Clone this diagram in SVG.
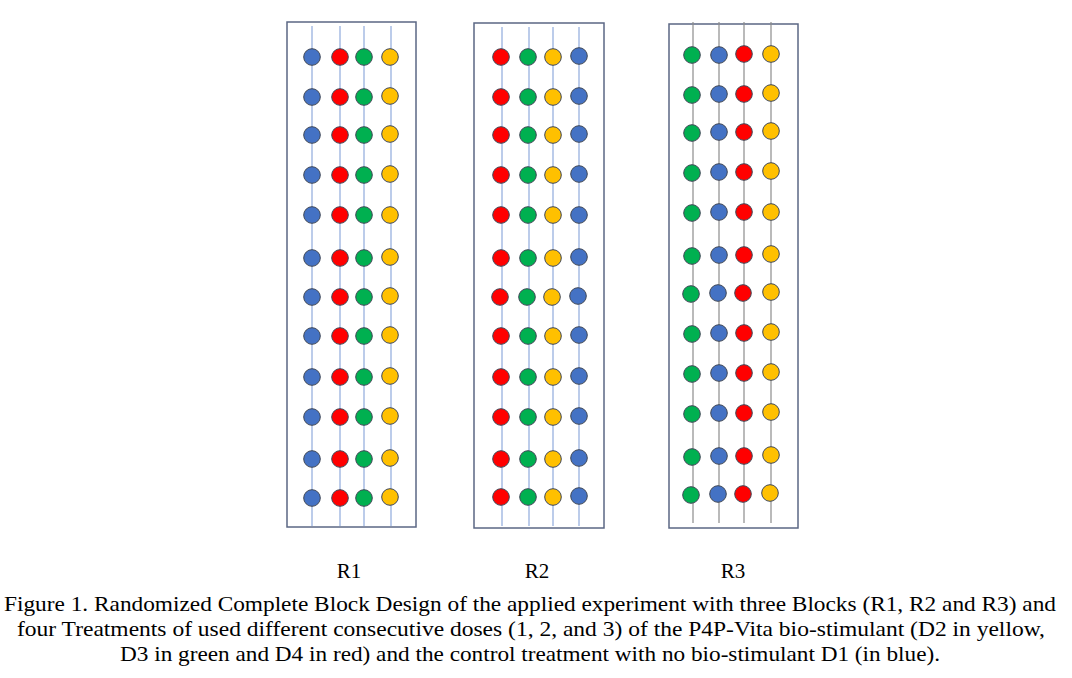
<svg xmlns="http://www.w3.org/2000/svg" width="1072" height="678" viewBox="0 0 1072 678">
<style>
.box{fill:#fff;stroke:#5b6784;stroke-width:1.5}
.l1{stroke:#8faadc;stroke-width:1.2}
.l3{stroke:#8c8c8c;stroke-width:1.2}
circle{stroke:#3f4756;stroke-width:1}
.b{fill:#4472c4}.r{fill:#ff0000}.g{fill:#00b050}.y{fill:#ffc000}
text{font-family:"Liberation Serif","Times New Roman",serif;font-size:21px;fill:#000;text-anchor:middle}
</style>
<rect width="1072" height="678" fill="#fff"/>
<g id="R1">
<rect class="box" x="287" y="22" width="129" height="505"/>
<g class="l1"><line x1="312" y1="26" x2="312" y2="526"/><line x1="340" y1="26" x2="340" y2="526"/><line x1="364" y1="26" x2="364" y2="526"/><line x1="391" y1="26" x2="391" y2="526"/></g>
</g>
<g id="R2">
<rect class="box" x="474" y="23" width="130" height="505"/>
<g class="l1"><line x1="502" y1="27" x2="502" y2="526"/><line x1="529" y1="27" x2="529" y2="526"/><line x1="553" y1="27" x2="553" y2="526"/><line x1="579" y1="27" x2="579" y2="526"/></g>
</g>
<g id="R3">
<rect class="box" x="669" y="24" width="129" height="504"/>
<g class="l3"><line x1="693" y1="22" x2="693" y2="523"/><line x1="719" y1="22" x2="719" y2="523"/><line x1="744" y1="22" x2="744" y2="523"/><line x1="771" y1="22" x2="771" y2="523"/></g>
</g>
<g id="R1-circles">
<circle class="b" cx="312" cy="57" r="8.3"/><circle class="r" cx="340" cy="57" r="8.3"/><circle class="g" cx="364" cy="57" r="8.3"/><circle class="y" cx="390" cy="57" r="8.3"/>
<circle class="b" cx="312" cy="97" r="8.3"/><circle class="r" cx="340" cy="97" r="8.3"/><circle class="g" cx="364" cy="97" r="8.3"/><circle class="y" cx="390" cy="96" r="8.3"/>
<circle class="b" cx="312" cy="135" r="8.3"/><circle class="r" cx="340" cy="135" r="8.3"/><circle class="g" cx="364" cy="135" r="8.3"/><circle class="y" cx="390" cy="134" r="8.3"/>
<circle class="b" cx="312" cy="175" r="8.3"/><circle class="r" cx="340" cy="175" r="8.3"/><circle class="g" cx="364" cy="175" r="8.3"/><circle class="y" cx="390" cy="174" r="8.3"/>
<circle class="b" cx="312" cy="215" r="8.3"/><circle class="r" cx="340" cy="215" r="8.3"/><circle class="g" cx="364" cy="215" r="8.3"/><circle class="y" cx="390" cy="215" r="8.3"/>
<circle class="b" cx="312" cy="258" r="8.3"/><circle class="r" cx="340" cy="258" r="8.3"/><circle class="g" cx="364" cy="258" r="8.3"/><circle class="y" cx="390" cy="257" r="8.3"/>
<circle class="b" cx="312" cy="297" r="8.3"/><circle class="r" cx="340" cy="297" r="8.3"/><circle class="g" cx="364" cy="297" r="8.3"/><circle class="y" cx="390" cy="296" r="8.3"/>
<circle class="b" cx="312" cy="336" r="8.3"/><circle class="r" cx="340" cy="336" r="8.3"/><circle class="g" cx="364" cy="336" r="8.3"/><circle class="y" cx="390" cy="335" r="8.3"/>
<circle class="b" cx="312" cy="377" r="8.3"/><circle class="r" cx="340" cy="377" r="8.3"/><circle class="g" cx="364" cy="377" r="8.3"/><circle class="y" cx="390" cy="376" r="8.3"/>
<circle class="b" cx="312" cy="417" r="8.3"/><circle class="r" cx="340" cy="417" r="8.3"/><circle class="g" cx="364" cy="417" r="8.3"/><circle class="y" cx="390" cy="416" r="8.3"/>
<circle class="b" cx="312" cy="459" r="8.3"/><circle class="r" cx="340" cy="459" r="8.3"/><circle class="g" cx="364" cy="459" r="8.3"/><circle class="y" cx="390" cy="458" r="8.3"/>
<circle class="b" cx="312" cy="498" r="8.3"/><circle class="r" cx="340" cy="498" r="8.3"/><circle class="g" cx="364" cy="498" r="8.3"/><circle class="y" cx="390" cy="497" r="8.3"/>
</g>
<g id="R2-circles">
<circle class="r" cx="501" cy="57" r="8.3"/><circle class="g" cx="528" cy="57" r="8.3"/><circle class="y" cx="553" cy="57" r="8.3"/><circle class="b" cx="579" cy="56" r="8.3"/>
<circle class="r" cx="501" cy="97" r="8.3"/><circle class="g" cx="528" cy="97" r="8.3"/><circle class="y" cx="553" cy="97" r="8.3"/><circle class="b" cx="579" cy="96" r="8.3"/>
<circle class="r" cx="501" cy="135" r="8.3"/><circle class="g" cx="528" cy="135" r="8.3"/><circle class="y" cx="553" cy="135" r="8.3"/><circle class="b" cx="579" cy="134" r="8.3"/>
<circle class="r" cx="501" cy="175" r="8.3"/><circle class="g" cx="528" cy="175" r="8.3"/><circle class="y" cx="553" cy="175" r="8.3"/><circle class="b" cx="579" cy="174" r="8.3"/>
<circle class="r" cx="501" cy="215" r="8.3"/><circle class="g" cx="528" cy="215" r="8.3"/><circle class="y" cx="553" cy="215" r="8.3"/><circle class="b" cx="579" cy="215" r="8.3"/>
<circle class="r" cx="501" cy="258" r="8.3"/><circle class="g" cx="528" cy="258" r="8.3"/><circle class="y" cx="553" cy="258" r="8.3"/><circle class="b" cx="579" cy="257" r="8.3"/>
<circle class="r" cx="500" cy="297" r="8.3"/><circle class="g" cx="527" cy="297" r="8.3"/><circle class="y" cx="552" cy="297" r="8.3"/><circle class="b" cx="578" cy="296" r="8.3"/>
<circle class="r" cx="501" cy="336" r="8.3"/><circle class="g" cx="528" cy="336" r="8.3"/><circle class="y" cx="553" cy="336" r="8.3"/><circle class="b" cx="579" cy="335" r="8.3"/>
<circle class="r" cx="501" cy="377" r="8.3"/><circle class="g" cx="528" cy="377" r="8.3"/><circle class="y" cx="553" cy="377" r="8.3"/><circle class="b" cx="579" cy="376" r="8.3"/>
<circle class="r" cx="501" cy="417" r="8.3"/><circle class="g" cx="528" cy="417" r="8.3"/><circle class="y" cx="553" cy="417" r="8.3"/><circle class="b" cx="579" cy="416" r="8.3"/>
<circle class="r" cx="501" cy="459" r="8.3"/><circle class="g" cx="528" cy="459" r="8.3"/><circle class="y" cx="553" cy="459" r="8.3"/><circle class="b" cx="579" cy="458" r="8.3"/>
<circle class="r" cx="501" cy="497" r="8.3"/><circle class="g" cx="528" cy="497" r="8.3"/><circle class="y" cx="553" cy="497" r="8.3"/><circle class="b" cx="579" cy="496" r="8.3"/>
</g>
<g id="R3-circles">
<circle class="g" cx="692" cy="55" r="8.3"/><circle class="b" cx="719" cy="55" r="8.3"/><circle class="r" cx="744" cy="54" r="8.3"/><circle class="y" cx="771" cy="54" r="8.3"/>
<circle class="g" cx="692" cy="95" r="8.3"/><circle class="b" cx="719" cy="94" r="8.3"/><circle class="r" cx="744" cy="94" r="8.3"/><circle class="y" cx="771" cy="93" r="8.3"/>
<circle class="g" cx="692" cy="133" r="8.3"/><circle class="b" cx="719" cy="132" r="8.3"/><circle class="r" cx="744" cy="132" r="8.3"/><circle class="y" cx="771" cy="131" r="8.3"/>
<circle class="g" cx="692" cy="173" r="8.3"/><circle class="b" cx="719" cy="172" r="8.3"/><circle class="r" cx="744" cy="172" r="8.3"/><circle class="y" cx="771" cy="171" r="8.3"/>
<circle class="g" cx="692" cy="213" r="8.3"/><circle class="b" cx="719" cy="212" r="8.3"/><circle class="r" cx="744" cy="212" r="8.3"/><circle class="y" cx="771" cy="212" r="8.3"/>
<circle class="g" cx="692" cy="256" r="8.3"/><circle class="b" cx="719" cy="255" r="8.3"/><circle class="r" cx="744" cy="255" r="8.3"/><circle class="y" cx="771" cy="254" r="8.3"/>
<circle class="g" cx="691" cy="294" r="8.3"/><circle class="b" cx="718" cy="293" r="8.3"/><circle class="r" cx="743" cy="293" r="8.3"/><circle class="y" cx="771" cy="292" r="8.3"/>
<circle class="g" cx="692" cy="334" r="8.3"/><circle class="b" cx="719" cy="333" r="8.3"/><circle class="r" cx="744" cy="333" r="8.3"/><circle class="y" cx="771" cy="332" r="8.3"/>
<circle class="g" cx="692" cy="374" r="8.3"/><circle class="b" cx="719" cy="373" r="8.3"/><circle class="r" cx="744" cy="373" r="8.3"/><circle class="y" cx="771" cy="372" r="8.3"/>
<circle class="g" cx="692" cy="414" r="8.3"/><circle class="b" cx="719" cy="413" r="8.3"/><circle class="r" cx="744" cy="413" r="8.3"/><circle class="y" cx="771" cy="412" r="8.3"/>
<circle class="g" cx="692" cy="457" r="8.3"/><circle class="b" cx="719" cy="456" r="8.3"/><circle class="r" cx="744" cy="456" r="8.3"/><circle class="y" cx="771" cy="455" r="8.3"/>
<circle class="g" cx="691" cy="495" r="8.3"/><circle class="b" cx="718" cy="494" r="8.3"/><circle class="r" cx="743" cy="494" r="8.3"/><circle class="y" cx="770" cy="493" r="8.3"/>
</g>
<g id="labels">
<text x="349" y="578">R1</text>
<text x="537" y="578">R2</text>
<text x="733" y="578">R3</text>
<text x="530" y="611" textLength="1052" lengthAdjust="spacingAndGlyphs">Figure 1. Randomized Complete Block Design of the applied experiment with three Blocks (R1, R2 and R3) and</text>
<text x="531" y="636" textLength="1028" lengthAdjust="spacingAndGlyphs">four Treatments of used different consecutive doses (1, 2, and 3) of the P4P-Vita bio-stimulant (D2 in yellow,</text>
<text x="530" y="661" textLength="820" lengthAdjust="spacingAndGlyphs">D3 in green and D4 in red) and the control treatment with no bio-stimulant D1 (in blue).</text>
</g>
</svg>
